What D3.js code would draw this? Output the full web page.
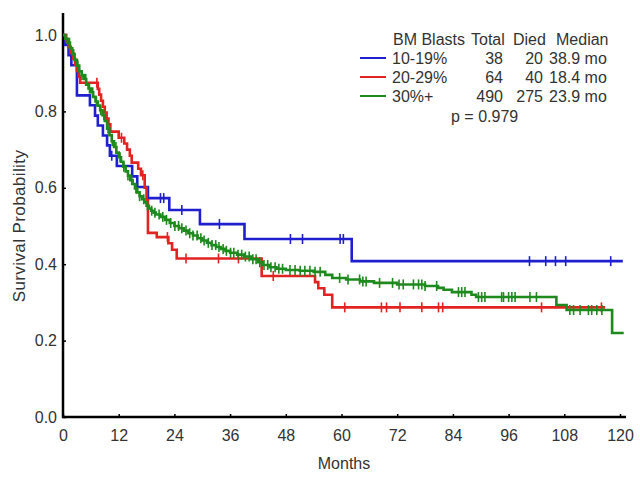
<!DOCTYPE html>
<html><head><meta charset="utf-8">
<script src="https://cdn.jsdelivr.net/npm/d3@7/dist/d3.min.js"></script>
<style>body{margin:0;background:#fff}svg{display:block}text{font-family:"Liberation Sans",Arial,sans-serif;fill:#333}</style>
</head><body><svg id="c" width="640" height="479"></svg>
<script>
// ---- data ----
const groups = ["10-19%", "20-29%", "30%+"];
const totals = [38, 64, 490];
const died = [20, 40, 275];
const medians = ["38.9 mo", "18.4 mo", "23.9 mo"];
const pValue = "p = 0.979";
const xTicks = [0, 12, 24, 36, 48, 60, 72, 84, 96, 108, 120];
const yTicks = [0.0, 0.2, 0.4, 0.6, 0.8, 1.0];

// KM steps: [month, survival]
const blueSteps = [[0,1],[0.5,0.974],[1.2,0.947],[1.8,0.921],[3.0,0.842],[5.8,0.816],[6.9,0.789],[7.5,0.763],[8.6,0.737],[9.5,0.711],[10.1,0.684],[11.6,0.657],[14.9,0.630],[16.0,0.602],[18.3,0.573],[22.9,0.542],[29.5,0.505],[39.1,0.466],[62.2,0.408]];
const blueEnd = 120.6;
const blueCensor = [10.5, 21.0, 21.7, 25.6, 33.7, 49.0, 51.6, 59.7, 60.4, 100.5, 104.0, 106.1, 108.3, 118.0];

const redSteps = [[0,1],[0.7,0.984],[1.2,0.969],[1.7,0.953],[2.2,0.938],[2.6,0.922],[3.0,0.906],[3.4,0.891],[3.7,0.875],[7.5,0.859],[7.8,0.844],[8.2,0.828],[8.6,0.812],[9.0,0.797],[9.4,0.781],[9.8,0.766],[10.2,0.747],[12.0,0.731],[13.2,0.716],[13.8,0.700],[14.4,0.684],[14.8,0.666],[16.2,0.650],[16.8,0.633],[17.6,0.600],[18.0,0.567],[18.3,0.482],[20.2,0.471],[22.7,0.455],[23.5,0.438],[24.5,0.415],[42.8,0.369],[54.3,0.353],[55.0,0.337],[56.3,0.320],[58.0,0.287]];
const redEnd = 116.8;
const redCensor = [7.3, 12.6, 17.2, 22.5, 26.5, 33.5, 37.8, 45.3, 60.7, 68.6, 69.7, 72.6, 77.3, 80.9, 81.8, 103.1, 116.0];

const greenSteps = [[0,1],[0.5,0.99],[1.0,0.98],[1.5,0.965],[2.0,0.95],[2.5,0.935],[3.0,0.92],[3.5,0.905],[4.0,0.895],[4.5,0.885],[5.0,0.87],[5.5,0.86],[6.0,0.85],[6.5,0.838],[7.0,0.826],[7.5,0.815],[8.0,0.803],[8.5,0.79],[9.0,0.775],[9.5,0.755],[10.0,0.738],[10.5,0.722],[11.0,0.707],[11.5,0.692],[12.0,0.68],[12.5,0.668],[13.0,0.655],[13.5,0.643],[14.0,0.632],[14.5,0.62],[15.0,0.61],[15.5,0.598],[16.0,0.588],[16.5,0.578],[17.0,0.57],[17.5,0.562],[18.0,0.553],[18.5,0.546],[19.0,0.54],[19.5,0.535],[20.0,0.53],[21.0,0.524],[22.0,0.516],[23.0,0.508],[24.0,0.5],[25.0,0.494],[26.0,0.488],[27.0,0.481],[28.0,0.475],[29.0,0.468],[30.0,0.462],[31.0,0.456],[32.0,0.45],[33.0,0.445],[34.0,0.44],[35.0,0.435],[36.0,0.43],[37.5,0.425],[39.0,0.42],[40.5,0.413],[42.0,0.405],[43.0,0.398],[44.5,0.392],[46.0,0.388],[48.0,0.385],[51.0,0.383],[54.0,0.38],[56.5,0.372],[58.0,0.364],[61.0,0.36],[64.0,0.355],[67.0,0.351],[72.0,0.347],[78.0,0.343],[80.8,0.338],[82.0,0.333],[83.8,0.327],[88.0,0.320],[89.0,0.314],[106.3,0.293],[108.5,0.28],[118.3,0.22]];
const greenEnd = 120.8;
const greenCensor = [1.4,2.3,3.2,4.1,4.9,5.7,6.4,7.2,8.1,8.8,9.7,10.6,11.4,12.3,13.1,14.0,14.8,15.7,16.5,17.4,18.2,19.1,19.8,20.7,21.5,22.3,23.2,24.1,24.9,25.6,26.5,27.3,28.0,28.9,29.7,30.4,31.3,32.1,32.9,33.6,34.5,35.2,36.1,36.8,37.7,38.5,39.3,40.1,40.9,41.6,42.4,43.3,44.1,44.8,45.7,46.5,47.3,48.9,50.0,51.1,52.1,53.2,54.3,55.4,59.6,61.4,63.9,64.6,65.3,68.2,71.0,72.4,73.3,75.5,76.6,77.3,78.0,80.5,85.2,85.9,86.6,89.5,90.2,90.9,94.5,94.9,96.0,96.7,97.4,100.6,102.0,109.2,110.0,111.4,113.2,113.9,115.0,116.1];

const colors = ["#1f1fd0", "#e32222", "#1e8a1e"];

// ---- layout ----
const FONT = '"Liberation Sans",Arial,sans-serif';
const svg = d3.select("#c");
const x = d3.scaleLinear().domain([0, 120]).range([63, 620]);
const y = d3.scaleLinear().domain([0, 1]).range([417, 35]);

// axes
const xAxis = d3.axisBottom(x).tickValues(xTicks).tickSize(-3).tickPadding(13).tickFormat(d3.format("d"));
const gx = svg.append("g").attr("transform", "translate(0,417)").call(xAxis);
gx.select(".domain").remove();
gx.selectAll("line").attr("stroke", "#000").attr("stroke-width", 1.5);
gx.selectAll("text").attr("font-size", 16).attr("fill", "#333").style("font-family", FONT);

const yAxis = d3.axisLeft(y).tickValues(yTicks).tickSize(-3).tickPadding(6).tickFormat(d3.format(".1f"));
const gy = svg.append("g").attr("transform", "translate(63,0)").call(yAxis);
gy.select(".domain").remove();
gy.selectAll("line").attr("stroke", "#000").attr("stroke-width", 1.5);
gy.selectAll("text").attr("font-size", 16).attr("fill", "#333").style("font-family", FONT);

svg.append("line").attr("x1", 63).attr("x2", 63).attr("y1", 13).attr("y2", 418).attr("stroke", "#000").attr("stroke-width", 2.5);
svg.append("line").attr("x1", 62).attr("x2", 626).attr("y1", 417).attr("y2", 417).attr("stroke", "#000").attr("stroke-width", 2.5);

svg.append("text").attr("x", 344).attr("y", 469).attr("text-anchor", "middle").attr("font-size", 16).text("Months");
svg.append("text").attr("transform", "translate(25,226) rotate(-90)").attr("text-anchor", "middle")
  .attr("font-size", 17).attr("letter-spacing", 0.4).text("Survival Probability");

// curves
const line = d3.line().x(d => x(d[0])).y(d => y(d[1])).curve(d3.curveStepAfter);
function survAt(steps, t) {
  let s = steps[0][1];
  for (const p of steps) { if (p[0] <= t) s = p[1]; else break; }
  return s;
}
const series = [
  {steps: blueSteps, end: blueEnd, censor: blueCensor},
  {steps: redSteps, end: redEnd, censor: redCensor},
  {steps: greenSteps, end: greenEnd, censor: greenCensor}
];
series.forEach((s, i) => {
  const pts = s.steps.concat([[s.end, s.steps[s.steps.length - 1][1]]]);
  const g = svg.append("g");
  g.append("path").datum(pts).attr("d", line).attr("fill", "none")
    .attr("stroke", colors[i]).attr("stroke-width", 2.6).attr("stroke-linejoin", "miter");
  g.selectAll("line.c").data(s.censor).join("line").attr("class", "c")
    .attr("x1", d => x(d)).attr("x2", d => x(d))
    .attr("y1", d => y(survAt(s.steps, d)) - 5).attr("y2", d => y(survAt(s.steps, d)) + 5)
    .attr("stroke", colors[i]).attr("stroke-width", 1.6);
});

// legend
const lf = 16;
const header = svg.append("g");
header.append("text").attr("x", 393).attr("y", 45).attr("font-size", lf).text("BM Blasts");
header.append("text").attr("x", 471).attr("y", 45).attr("font-size", lf).text("Total");
header.append("text").attr("x", 513).attr("y", 45).attr("font-size", lf).text("Died");
header.append("text").attr("x", 556).attr("y", 45).attr("font-size", lf).text("Median");
groups.forEach((gname, i) => {
  const yy = 64 + i * 19;
  svg.append("line").attr("x1", 360).attr("x2", 386).attr("y1", yy - 6).attr("y2", yy - 6)
    .attr("stroke", colors[i]).attr("stroke-width", 2);
  svg.append("text").attr("x", 392).attr("y", yy).attr("font-size", lf).text(gname);
  svg.append("text").attr("x", 503).attr("y", yy).attr("text-anchor", "end").attr("font-size", lf).text(totals[i]);
  svg.append("text").attr("x", 543).attr("y", yy).attr("text-anchor", "end").attr("font-size", lf).text(died[i]);
  svg.append("text").attr("x", 549).attr("y", yy).attr("font-size", lf).text(medians[i]);
});
svg.append("text").attr("x", 451).attr("y", 122).attr("font-size", lf).text(pValue);
</script></body></html>
